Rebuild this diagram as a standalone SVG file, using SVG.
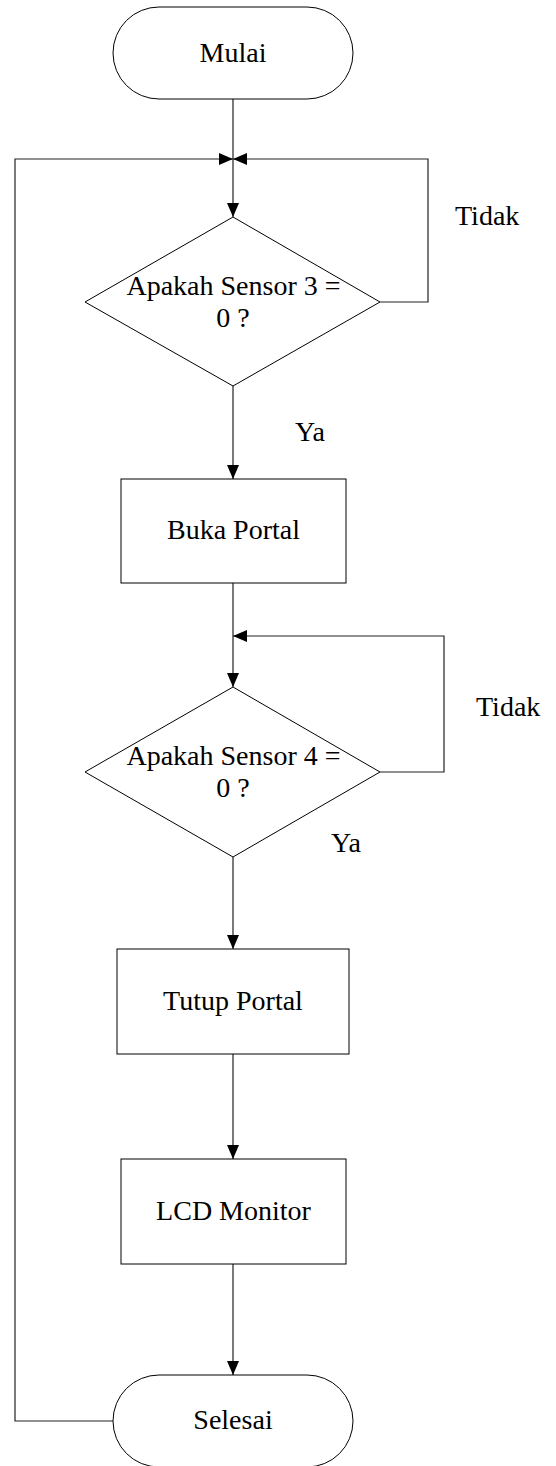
<svg xmlns="http://www.w3.org/2000/svg" width="556" height="1466" viewBox="0 0 556 1466">
  <style>
    .shape { fill: #fff; stroke: #000; stroke-width: 1; }
    .line { fill: none; stroke: #222; stroke-width: 1.2; }
    text { font-family: "Liberation Serif", "Times New Roman", serif; font-size: 28px; fill: #000; }
    .c { text-anchor: middle; }
  </style>
  <defs>
    <marker id="arrow" markerUnits="userSpaceOnUse" markerWidth="14" markerHeight="12" refX="14" refY="6" orient="auto">
      <path d="M0,0 L14,6 L0,12 Z" fill="#000"/>
    </marker>
  </defs>

  <rect width="556" height="1466" fill="#fff"/>

  <!-- connectors -->
  <g id="connectors">
    <line class="line" x1="233" y1="99" x2="233" y2="217" marker-end="url(#arrow)"/>
    <polyline class="line" points="380,302 428,302 428,159 233,159" marker-end="url(#arrow)"/>
    <polyline class="line" points="113,1421 15,1421 15,159 233,159" marker-end="url(#arrow)"/>
    <line class="line" x1="233" y1="386" x2="233" y2="479" marker-end="url(#arrow)"/>
    <line class="line" x1="233" y1="583" x2="233" y2="687" marker-end="url(#arrow)"/>
    <polyline class="line" points="380,772 444,772 444,636 233,636" marker-end="url(#arrow)"/>
    <line class="line" x1="233" y1="857" x2="233" y2="949" marker-end="url(#arrow)"/>
    <line class="line" x1="233" y1="1054" x2="233" y2="1159" marker-end="url(#arrow)"/>
    <line class="line" x1="233" y1="1264" x2="233" y2="1375" marker-end="url(#arrow)"/>
    <text x="455" y="225">Tidak</text>
    <text x="295" y="441">Ya</text>
    <text x="476" y="716">Tidak</text>
    <text x="331" y="852">Ya</text>
  </g>

  <g id="mulai">
    <rect class="shape" x="113" y="7" width="240" height="92" rx="46" ry="46"/>
    <text class="c" x="233" y="62">Mulai</text>
  </g>

  <g id="cek-sensor-3">
    <polygon class="shape" points="233,217 380,302 233,386 85,302"/>
    <text class="c" x="233.5" y="295">Apakah Sensor 3 =</text>
    <text class="c" x="233" y="327">0 ?</text>
  </g>

  <g id="buka-portal">
    <rect class="shape" x="121" y="479" width="225" height="104"/>
    <text class="c" x="233.5" y="539">Buka Portal</text>
  </g>

  <g id="cek-sensor-4">
    <polygon class="shape" points="233,687 380,772 233,857 85,772"/>
    <text class="c" x="233.5" y="765">Apakah Sensor 4 =</text>
    <text class="c" x="233" y="797">0 ?</text>
  </g>

  <g id="tutup-portal">
    <rect class="shape" x="117" y="949" width="232" height="105"/>
    <text class="c" x="233" y="1010">Tutup Portal</text>
  </g>

  <g id="lcd-monitor">
    <rect class="shape" x="121" y="1159" width="225" height="105"/>
    <text class="c" x="233.5" y="1220">LCD Monitor</text>
  </g>

  <g id="selesai">
    <rect class="shape" x="113" y="1375" width="240" height="92" rx="46" ry="46"/>
    <text class="c" x="233" y="1429">Selesai</text>
  </g>
</svg>
